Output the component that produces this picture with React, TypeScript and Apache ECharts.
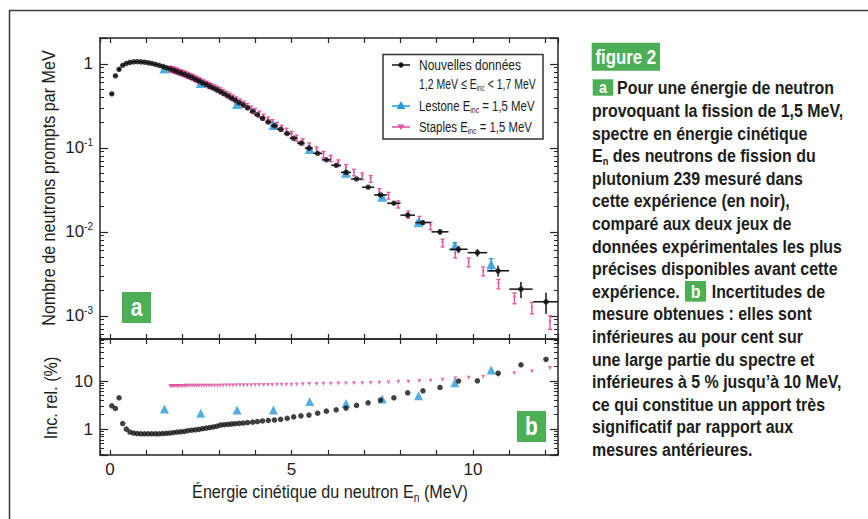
import React, { useEffect, useRef } from "react";
import * as echarts from "echarts";

const FONT = '"Liberation Sans", Arial, sans-serif';
const TXT = "#1d1d1b";
const AXIS = "#262626";
const BLACK = "#111111";
const BLUE = "#2b9ad8";
const PINK = "#df4f9c";
const GREEN = "#4cae55";
const NARROW = 0.84;

// ---- Nouvelles données (black) ----
const blackE = [
  0.05, 0.15, 0.25, 0.35, 0.45, 0.55, 0.65, 0.75, 0.85, 0.95,
  1.05, 1.15, 1.25, 1.35, 1.45, 1.55, 1.65, 1.75, 1.85, 1.95,
  2.05, 2.15, 2.25, 2.35, 2.45, 2.55, 2.65, 2.75, 2.85, 2.95,
  3.05, 3.15, 3.25, 3.35, 3.45, 3.56, 3.67, 3.79, 3.93, 4.06,
  4.2, 4.36, 4.53, 4.7, 4.88, 5.06, 5.26, 5.48, 5.72, 5.96,
  6.23, 6.5, 6.79, 7.11, 7.45, 7.82, 8.2, 8.62, 9.09, 9.6,
  10.12, 10.69, 11.32, 12.01,
];
const blackN = [
  0.44, 0.72, 0.86, 0.96, 1.01, 1.04, 1.055, 1.06, 1.055, 1.045,
  1.03, 1.01, 0.985, 0.96, 0.93, 0.9, 0.87, 0.84, 0.81, 0.78,
  0.75, 0.72, 0.69, 0.655, 0.625, 0.595, 0.57, 0.54, 0.515, 0.49,
  0.465, 0.44, 0.415, 0.39, 0.37, 0.345, 0.325, 0.3, 0.272, 0.248,
  0.225, 0.203, 0.183, 0.166, 0.148, 0.13, 0.114, 0.099, 0.086, 0.072,
  0.062, 0.051, 0.0426, 0.034, 0.0275, 0.0219, 0.0158, 0.0129, 0.01, 0.0062,
  0.00565, 0.00344, 0.00208, 0.00147,
];
const blackInc = [
  3.06, 2.7, 4.49, 1.31, 1.0, 0.87, 0.83, 0.81, 0.8, 0.8,
  0.8, 0.8, 0.8, 0.8, 0.81, 0.82, 0.83, 0.85, 0.87, 0.88,
  0.9, 0.93, 0.95, 0.97, 0.99, 1.02, 1.05, 1.08, 1.11, 1.15,
  1.22, 1.24, 1.26, 1.28, 1.3, 1.32, 1.34, 1.37, 1.4, 1.44,
  1.48, 1.52, 1.55, 1.6, 1.68, 1.8, 1.89, 1.96, 2.15, 2.37,
  2.52, 2.74, 3.12, 3.53, 4.02, 4.49, 5.7, 6.28, 7.38, 10.0,
  10.15, 14.6, 21.8, 28.3,
];
const blackHalfWidth = [
  0.05, 0.05, 0.05, 0.05, 0.05, 0.05, 0.05, 0.05, 0.05, 0.05,
  0.05, 0.05, 0.05, 0.05, 0.05, 0.05, 0.05, 0.05, 0.05, 0.05,
  0.05, 0.05, 0.05, 0.05, 0.05, 0.05, 0.05, 0.05, 0.05, 0.05,
  0.05, 0.05, 0.05, 0.05, 0.05, 0.055, 0.06, 0.065, 0.07, 0.07,
  0.075, 0.08, 0.085, 0.09, 0.09, 0.1, 0.105, 0.11, 0.12, 0.125,
  0.135, 0.14, 0.15, 0.165, 0.175, 0.185, 0.2, 0.215, 0.235, 0.25,
  0.27, 0.3, 0.32, 0.35,
];

// ---- Lestone (blue) ----
const lestoneE = [1.5, 2.5, 3.5, 4.5, 5.5, 6.5, 7.5, 8.5, 9.5, 10.5];
const lestoneN = [0.88, 0.59, 0.333, 0.187, 0.097, 0.0504, 0.0262, 0.013, 0.0068, 0.0041];
const lestoneInc = [2.61, 2.15, 2.49, 2.49, 3.77, 3.43, 4.22, 4.94, 9.22, 16.9];

// ---- Staples (pink) ----
const staplesE = [
  1.66, 1.7, 1.74, 1.78, 1.82, 1.86, 1.9, 1.95, 2.0, 2.05,
  2.1, 2.15, 2.21, 2.27, 2.33, 2.39, 2.45, 2.52, 2.59, 2.66,
  2.73, 2.8, 2.88, 2.96, 3.04, 3.12, 3.21, 3.3, 3.39, 3.48,
  3.58, 3.68, 3.78, 3.89, 4.0, 4.11, 4.23, 4.35, 4.47, 4.6,
  4.73, 4.86, 5.0, 5.14, 5.31, 5.49, 5.69, 5.88, 6.08, 6.29,
  6.5, 6.72, 6.95, 7.18, 7.42, 7.67, 7.94, 8.22, 8.52, 8.83,
  9.16, 9.51, 9.88, 10.28, 10.7, 11.14, 11.62, 12.12,
];
const staplesN = [
  0.87, 0.86, 0.85, 0.84, 0.83, 0.815, 0.8, 0.79, 0.775, 0.76,
  0.745, 0.73, 0.71, 0.695, 0.675, 0.655, 0.635, 0.615, 0.595, 0.575,
  0.555, 0.54, 0.52, 0.5, 0.48, 0.458, 0.436, 0.414, 0.394, 0.373,
  0.352, 0.332, 0.312, 0.29, 0.272, 0.252, 0.233, 0.215, 0.2, 0.185,
  0.171, 0.158, 0.144, 0.131, 0.118, 0.105, 0.094, 0.083, 0.075, 0.066,
  0.058, 0.051, 0.046, 0.0428, 0.03, 0.027, 0.0213, 0.0161, 0.0139, 0.0118,
  0.0074, 0.0055, 0.00435, 0.0034, 0.0024, 0.00163, 0.00125, 0.000845,
];
const staplesInc = [
  7.9, 7.9, 7.9, 7.9, 7.9, 7.9, 7.9, 7.9, 7.9, 7.9,
  7.95, 7.95, 7.95, 7.95, 7.95, 7.95, 7.95, 7.95, 7.95, 7.95,
  8.0, 8.0, 8.0, 8.02, 8.04, 8.06, 8.08, 8.1, 8.12, 8.14,
  8.16, 8.18, 8.2, 8.22, 8.24, 8.26, 8.28, 8.3, 8.32, 8.34,
  8.36, 8.37, 8.38, 8.45, 8.55, 8.66, 8.7, 8.75, 8.78, 8.85,
  8.93, 9.0, 9.05, 9.1, 9.2, 9.37, 9.67, 9.67, 10.0, 10.15,
  10.6, 11.3, 11.7, 12.3, 12.9, 14.6, 15.9, 18.4,
];

// ---- axes ----
const X_MIN = -0.275;
const X_MAX = 12.34;
const TOP_MIN = 5.3e-4;
const TOP_MAX = 2.03;
const BOT_MIN = 0.29;
const BOT_MAX = 75;
const X_LABEL_STEP = 5;

const titleTop = "Nombre de neutrons prompts par MeV";
const titleBottom = "Inc. rel. (%)";
const titleX = "Énergie cinétique du neutron E{sub|n} (MeV)";

const legendLabels = [
  "Nouvelles données",
  "1,2 MeV ≤ E{s|inc} < 1,7 MeV",
  "Lestone E{s|inc} = 1,5 MeV",
  "Staples E{s|inc} = 1,5 MeV",
];

const paragraph = [
  "Pour une énergie de neutron",
  "provoquant la fission de 1,5 MeV,",
  "spectre en énergie cinétique",
  "E{n|n} des neutrons de fission du",
  "plutonium 239 mesuré dans",
  "cette expérience (en noir),",
  "comparé aux deux jeux de",
  "données expérimentales les plus",
  "précises disponibles avant cette",
  "expérience.",
  "mesure obtenues : elles sont",
  "inférieures au pour cent sur",
  "une large partie du spectre et",
  "inférieures à 5 % jusqu’à 10 MeV,",
  "ce qui constitue un apport très",
  "significatif par rapport aux",
  "mesures antérieures.",
];

const errRender = (color: string, cap: number, width: number) => (params: any, api: any) => {
  const x = api.value(0);
  const y = api.value(1);
  const lo = api.value(2);
  const hi = api.value(3);
  const xl = api.value(4);
  const xr = api.value(5);
  const cs = params.coordSys;
  const c = api.coord([x, y]);
  const a = api.coord([x, lo]);
  const b = api.coord([x, hi]);
  const st = { stroke: color, lineWidth: width };
  const children: any[] = [
    { type: "line", shape: { x1: c[0], y1: a[1], x2: c[0], y2: b[1] }, style: st },
  ];
  if (cap > 0) {
    children.push({ type: "line", shape: { x1: c[0] - cap, y1: a[1], x2: c[0] + cap, y2: a[1] }, style: st });
    children.push({ type: "line", shape: { x1: c[0] - cap, y1: b[1], x2: c[0] + cap, y2: b[1] }, style: st });
  }
  if (xr > xl) {
    const l = api.coord([xl, y]);
    const r = api.coord([xr, y]);
    const right = Math.min(r[0], cs.x + cs.width);
    children.push({ type: "line", shape: { x1: l[0], y1: c[1], x2: right, y2: c[1] }, style: st });
  }
  return { type: "group", children };
};

const xAx = (gridIndex: number, position: string, showLabel: boolean) => ({
  type: "value",
  gridIndex,
  position,
  min: X_MIN,
  max: X_MAX,
  minInterval: 1,
  maxInterval: 1,
  axisLine: { show: true, onZero: false, lineStyle: { color: AXIS, width: 1.5 } },
  axisTick: { show: true, inside: true, length: 5, lineStyle: { color: AXIS, width: 1.2 } },
  axisLabel: {
    show: showLabel,
    margin: 6,
    fontFamily: FONT,
    fontSize: 17,
    color: TXT,
    formatter: (v: number) => (Math.abs(v % X_LABEL_STEP) < 1e-9 ? String(Math.round(v)) : ""),
  },
  splitLine: { show: false },
});

const topFmt = (v: number) => {
  const l = Math.log10(v);
  const k = Math.round(l);
  if (Math.abs(l - k) > 1e-6) return "";
  if (k === 0) return "{b|1}";
  return "{b|10}{s|" + k + "}";
};
const botFmt = (v: number) => {
  const l = Math.log10(v);
  const k = Math.round(l);
  if (Math.abs(l - k) > 1e-6) return "";
  return "{b|" + String(Math.round(Math.pow(10, k))) + "}";
};

const yAx = (
  gridIndex: number,
  position: string,
  min: number,
  max: number,
  fmt: ((v: number) => string) | null
) => ({
  type: "log",
  logBase: 10,
  gridIndex,
  position,
  min,
  max,
  axisLine: { show: true, onZero: false, lineStyle: { color: AXIS, width: 1.5 } },
  axisTick: { show: true, inside: true, length: 8, lineStyle: { color: AXIS, width: 1.2 } },
  minorTick: { show: true, splitNumber: 9, length: 4, lineStyle: { color: AXIS, width: 1 } },
  axisLabel: {
    show: !!fmt,
    margin: 7,
    formatter: fmt || undefined,
    rich: {
      b: { fontFamily: FONT, fontSize: 17, color: TXT, lineHeight: 20 },
      s: { fontFamily: FONT, fontSize: 10, color: TXT, lineHeight: 11, verticalAlign: "top" },
    },
  },
  splitLine: { show: false },
  minorSplitLine: { show: false },
});

function buildGraphic() {
  const g: any[] = [];
  // outer frame
  g.push({
    type: "rect",
    silent: true,
    z: 1,
    shape: { x: 9.5, y: 10.5, width: 900, height: 600 },
    style: { fill: "none", stroke: "#3a3a3a", lineWidth: 1.5 },
  });

  // axis titles
  g.push({
    type: "text",
    z: 50,
    x: 48.5,
    y: 188,
    rotation: Math.PI / 2,
    scaleX: 0.85,
    style: { text: titleTop, fontFamily: FONT, fontSize: 19, fill: TXT, align: "center", verticalAlign: "middle" },
  });
  g.push({
    type: "text",
    z: 50,
    x: 51,
    y: 398,
    rotation: Math.PI / 2,
    scaleX: 0.85,
    style: { text: titleBottom, fontFamily: FONT, fontSize: 19, fill: TXT, align: "center", verticalAlign: "middle" },
  });
  g.push({
    type: "text",
    z: 50,
    x: 330,
    y: 492,
    scaleX: 0.85,
    style: {
      text: titleX,
      fontFamily: FONT,
      fontSize: 19,
      fill: TXT,
      align: "center",
      verticalAlign: "middle",
      lineHeight: 24,
      rich: {
        sub: { fontFamily: FONT, fontSize: 12, fill: TXT, verticalAlign: "bottom", lineHeight: 22 },
      },
    },
  });

  // legend box
  const legendRich = {
    s: { fontFamily: FONT, fontSize: 9, fill: TXT, verticalAlign: "bottom", lineHeight: 18 },
  };
  g.push({
    type: "rect",
    z: 100,
    shape: { x: 383, y: 54.5, width: 160, height: 84.5 },
    style: { fill: "#fff", stroke: "#333", lineWidth: 1.5 },
  });
  const legendText = (text: string, y: number, sx: number) => ({
    type: "text",
    z: 101,
    x: 419,
    y,
    scaleX: sx,
    style: { text, fontFamily: FONT, fontSize: 15, fill: TXT, verticalAlign: "middle", align: "left", rich: legendRich, lineHeight: 18 },
  });
  g.push({ type: "line", z: 101, shape: { x1: 392, y1: 65, x2: 410, y2: 65 }, style: { stroke: BLACK, lineWidth: 1.5 } });
  g.push({ type: "circle", z: 102, shape: { cx: 401, cy: 65, r: 2.6 }, style: { fill: BLACK } });
  g.push(legendText(legendLabels[0], 65, 0.8));
  g.push(legendText(legendLabels[1], 83.5, 0.7));
  g.push({ type: "line", z: 101, shape: { x1: 392, y1: 106, x2: 410, y2: 106 }, style: { stroke: BLUE, lineWidth: 1.5 } });
  g.push({
    type: "polygon",
    z: 102,
    shape: { points: [[401, 101], [405.5, 109], [396.5, 109]] },
    style: { fill: BLUE },
  });
  g.push(legendText(legendLabels[2], 106, 0.76));
  g.push({ type: "line", z: 101, shape: { x1: 392, y1: 127, x2: 410, y2: 127 }, style: { stroke: PINK, lineWidth: 1.5 } });
  g.push({
    type: "polygon",
    z: 102,
    shape: { points: [[397.5, 124.5], [404.5, 124.5], [401, 130]] },
    style: { fill: PINK },
  });
  g.push(legendText(legendLabels[3], 127, 0.76));

  // tags
  const tag = (x: number, y: number, w: number, h: number, letter: string, fs: number) => {
    g.push({ type: "rect", z: 100, shape: { x, y, width: w, height: h }, style: { fill: GREEN } });
    g.push({
      type: "text",
      z: 101,
      x: x + w / 2,
      y: y + h / 2,
      scaleX: NARROW,
      style: { text: letter, fontFamily: FONT, fontWeight: "bold", fontSize: fs, fill: "#fff", align: "center", verticalAlign: "middle" },
    });
  };
  tag(122, 292, 29, 31, "a", 25);
  tag(517, 411, 29, 31, "b", 25);
  tag(591.7, 42.7, 68.3, 28, "figure 2", 20);

  // paragraph
  const lineH = 22.6;
  const y0 = 88;
  paragraph.forEach((line, i) => {
    const x = i === 0 ? 617 : 592;
    g.push({
      type: "text",
      z: 101,
      x,
      y: y0 + i * lineH,
      scaleX: NARROW,
      style: {
        text: line,
        fontFamily: FONT,
        fontWeight: "bold",
        fontSize: 19,
        fill: TXT,
        align: "left",
        verticalAlign: "middle",
        lineHeight: 22,
        rich: {
          n: { fontFamily: FONT, fontWeight: "bold", fontSize: 11, fill: TXT, verticalAlign: "bottom", lineHeight: 22 },
        },
      },
    });
  });
  tag(592.7, 79.3, 20.6, 16.4, "a", 17);
  tag(685, 281, 21, 20.7, "b", 19);
  g.push({
    type: "text",
    z: 101,
    x: 711.7,
    y: y0 + 9 * lineH,
    scaleX: NARROW,
    style: { text: "Incertitudes de", fontFamily: FONT, fontWeight: "bold", fontSize: 19, fill: TXT, align: "left", verticalAlign: "middle" },
  });
  return g;
}

export default function App() {
  const ref = useRef<HTMLDivElement>(null);
  useEffect(() => {
    if (!ref.current) return;
    const chart = echarts.init(ref.current, undefined, { renderer: "svg" });

    const staplesErr = staplesE.map((e, i) => [
      e,
      staplesN[i],
      staplesN[i] * (1 - staplesInc[i] / 100),
      staplesN[i] * (1 + staplesInc[i] / 100),
      e,
      e,
    ]);
    const lestoneErr = lestoneE.map((e, i) => [
      e,
      lestoneN[i],
      lestoneN[i] * (1 - lestoneInc[i] / 100),
      lestoneN[i] * (1 + lestoneInc[i] / 100),
      e,
      e,
    ]);
    const blackErr = blackE.map((e, i) => [
      e,
      blackN[i],
      blackN[i] * (1 - blackInc[i] / 100),
      blackN[i] * (1 + blackInc[i] / 100),
      e - blackHalfWidth[i],
      e + blackHalfWidth[i],
    ]);

    const option: any = {
      animation: false,
      backgroundColor: "#ffffff",
      grid: [
        { left: 100, top: 38, width: 458, height: 301 },
        { left: 100, top: 339, width: 458, height: 116 },
      ],
      xAxis: [xAx(0, "bottom", false), xAx(0, "top", false), xAx(1, "bottom", true), xAx(1, "top", false)],
      yAxis: [
        yAx(0, "left", TOP_MIN, TOP_MAX, topFmt),
        yAx(0, "right", TOP_MIN, TOP_MAX, null),
        yAx(1, "left", BOT_MIN, BOT_MAX, botFmt),
        yAx(1, "right", BOT_MIN, BOT_MAX, null),
      ],
      series: [
        {
          type: "custom",
          name: "Staples err",
          xAxisIndex: 0,
          yAxisIndex: 0,
          renderItem: errRender(PINK, 2, 1.3),
          encode: { x: 0, y: 1 },
          data: staplesErr,
          z: 2,
        },
        {
          type: "scatter",
          name: "Staples",
          xAxisIndex: 0,
          yAxisIndex: 0,
          symbol: "triangle",
          symbolRotate: 180,
          symbolSize: 3,
          itemStyle: { color: PINK },
          data: staplesE.map((e, i) => [e, staplesN[i]]),
          z: 3,
        },
        {
          type: "custom",
          name: "Lestone err",
          xAxisIndex: 0,
          yAxisIndex: 0,
          renderItem: errRender(BLUE, 2.5, 1.3),
          encode: { x: 0, y: 1 },
          data: lestoneErr,
          z: 4,
        },
        {
          type: "scatter",
          name: "Lestone",
          xAxisIndex: 0,
          yAxisIndex: 0,
          symbol: "triangle",
          symbolSize: 10,
          itemStyle: { color: BLUE },
          data: lestoneE.map((e, i) => [e, lestoneN[i]]),
          z: 5,
        },
        {
          type: "custom",
          name: "Nouvelles err",
          xAxisIndex: 0,
          yAxisIndex: 0,
          renderItem: errRender(BLACK, 0, 1.5),
          encode: { x: 0, y: 1 },
          data: blackErr,
          z: 6,
        },
        {
          type: "scatter",
          name: "Nouvelles données",
          xAxisIndex: 0,
          yAxisIndex: 0,
          symbol: "circle",
          symbolSize: 5.5,
          itemStyle: { color: BLACK },
          data: blackE.map((e, i) => [e, blackN[i]]),
          z: 7,
        },
        {
          type: "scatter",
          name: "Staples inc",
          xAxisIndex: 2,
          yAxisIndex: 2,
          symbol: "triangle",
          symbolRotate: 180,
          symbolSize: 4,
          itemStyle: { color: PINK },
          data: staplesE.map((e, i) => [e, staplesInc[i]]),
          z: 3,
        },
        {
          type: "scatter",
          name: "Lestone inc",
          xAxisIndex: 2,
          yAxisIndex: 2,
          symbol: "triangle",
          symbolSize: 9,
          itemStyle: { color: BLUE },
          data: lestoneE.map((e, i) => [e, lestoneInc[i]]),
          z: 5,
        },
        {
          type: "scatter",
          name: "Nouvelles inc",
          xAxisIndex: 2,
          yAxisIndex: 2,
          symbol: "circle",
          symbolSize: 5.5,
          itemStyle: { color: BLACK },
          data: blackE.map((e, i) => [e, blackInc[i]]),
          z: 7,
        },
      ],
      graphic: buildGraphic(),
    };
    chart.setOption(option);
    return () => chart.dispose();
  }, []);
  return (
    <div
      ref={ref}
      style={{ position: "absolute", left: 0, top: 0, width: 868, height: 519, background: "#fff" }}
    />
  );
}
